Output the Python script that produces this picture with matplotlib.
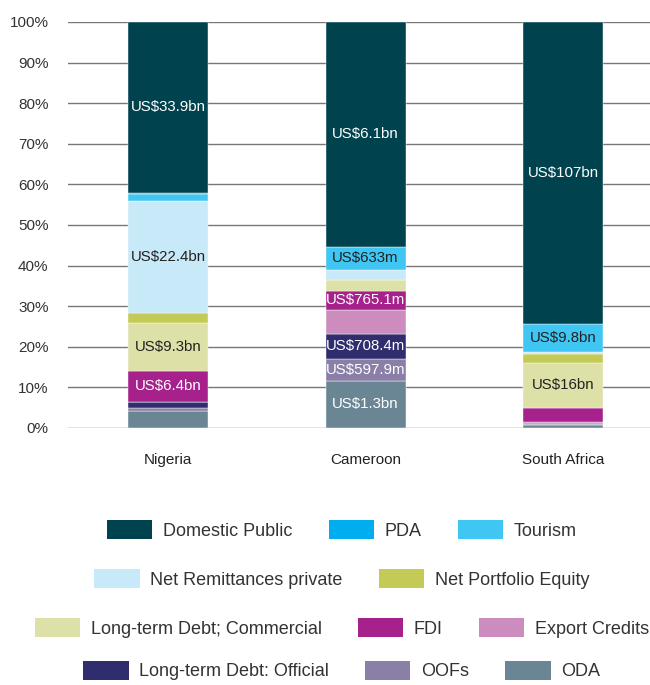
import matplotlib.pyplot as plt
from matplotlib.patches import Patch

plt.rcParams['font.family'] = ['Liberation Sans', 'DejaVu Sans']

countries = ['Nigeria', 'Cameroon', 'South Africa']

# stacking order, bottom to top
series = ['ODA', 'OOFs', 'Long-term Debt: Official', 'Export Credits', 'FDI',
          'Long-term Debt; Commercial', 'Net Portfolio Equity',
          'Net Remittances private', 'Tourism', 'PDA', 'Domestic Public']

colors = {
    'Domestic Public': '#01424F',
    'PDA': '#00AEEF',
    'Tourism': '#40C6F2',
    'Net Remittances private': '#C7E9F8',
    'Net Portfolio Equity': '#C3CA55',
    'Long-term Debt; Commercial': '#DDE0A7',
    'FDI': '#A6218C',
    'Export Credits': '#CC8DBE',
    'Long-term Debt: Official': '#302D6E',
    'OOFs': '#8A7FA6',
    'ODA': '#6A8694',
}

# share of total (%) per country, same order as series
shares = {
    'Nigeria':      [4.3, 0.6, 1.4, 0.2, 7.5, 11.8, 2.4, 27.7, 1.8, 0.3, 42.0],
    'Cameroon':     [11.6, 5.4, 6.2, 5.9, 4.7, 2.6, 0.0, 2.6, 5.6, 0.0, 55.4],
    'South Africa': [0.8, 0.3, 0.0, 0.3, 3.5, 11.2, 2.1, 0.6, 6.8, 0.0, 74.4],
}

# value labels: (series, text)
labels = {
    'Nigeria': [('Domestic Public', 'US$33.9bn'), ('Net Remittances private', 'US$22.4bn'),
                ('Long-term Debt; Commercial', 'US$9.3bn'), ('FDI', 'US$6.4bn')],
    'Cameroon': [('Domestic Public', 'US$6.1bn'), ('Tourism', 'US$633m'),
                 ('FDI', 'US$765.1m'), ('Long-term Debt: Official', 'US$708.4m'),
                 ('OOFs', 'US$597.9m'), ('ODA', 'US$1.3bn')],
    'South Africa': [('Domestic Public', 'US$107bn'), ('Tourism', 'US$9.8bn'),
                     ('Long-term Debt; Commercial', 'US$16bn')],
}
dark_text = ['Net Remittances private', 'Long-term Debt; Commercial', 'Tourism']

legend_rows = [
    ['Domestic Public', 'PDA', 'Tourism'],
    ['Net Remittances private', 'Net Portfolio Equity'],
    ['Long-term Debt; Commercial', 'FDI', 'Export Credits'],
    ['Long-term Debt: Official', 'OOFs', 'ODA'],
]

fig = plt.figure(figsize=(6.5, 6.85), dpi=100)
ax = fig.add_axes([0.1046, 0.3752, 0.8954, 0.5927])

x = range(len(countries))
width = 0.405
for i, c in enumerate(countries):
    bottom = 0
    pos = {}
    for s, v in zip(series, shares[c]):
        if v > 0:
            ax.bar(i, v, width, bottom=bottom, color=colors[s],
                   edgecolor='white', linewidth=0.3, zorder=3)
        pos[s] = bottom + v / 2
        bottom += v
    for s, txt in labels[c]:
        col = '#222222' if s in dark_text else 'white'
        ax.text(i, pos[s], txt, ha='center', va='center', fontsize=10.8,
                color=col, zorder=4)

ax.set_xlim(-0.506, 2.44)
ax.set_ylim(0, 100)
ax.set_yticks(range(0, 101, 10))
ax.set_yticklabels([f'{t}%' for t in range(0, 101, 10)])
ax.set_xticks(list(x))
ax.set_xticklabels(countries)
ax.tick_params(axis='y', length=0, pad=14, labelsize=11, labelcolor='#333333')
ax.tick_params(axis='x', length=0, pad=18, labelsize=11, labelcolor='#222222')
ax.grid(axis='y', color='#777777', linewidth=1, zorder=0)
ax.set_axisbelow(True)
for sp in ax.spines.values():
    sp.set_visible(False)

row_y = [0.2263, 0.1547, 0.0832, 0.021]
for row, yy in zip(legend_rows, row_y):
    handles = [Patch(facecolor=colors[s], label=s) for s in row]
    fig.legend(handles=handles, loc='center', bbox_to_anchor=(0.526, yy),
               ncol=len(row), frameon=False, fontsize=13,
               handlelength=2.5, handleheight=1.27, handletextpad=0.6,
               columnspacing=2.0, labelcolor='#333333')

fig.savefig('out.png', dpi=100)
